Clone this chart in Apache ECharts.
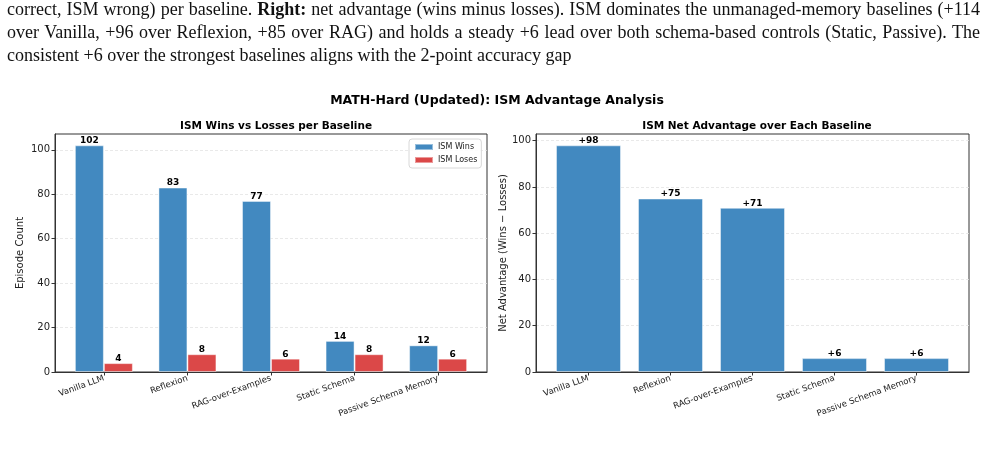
<!DOCTYPE html>
<html>
<head>
<meta charset="utf-8">
<script src="https://cdn.jsdelivr.net/npm/echarts@6/dist/echarts.min.js"></script>
<style>
  html, body { margin: 0; padding: 0; background: #fff; }
  #wrap { position: relative; width: 985px; height: 451px; overflow: hidden; }
  #chart { position: absolute; left: 0; top: 0; width: 985px; height: 451px; }
  #caption {
    position: absolute; left: 7px; top: -2px; width: 973px; z-index: 2;
    font-family: "Liberation Serif", serif; font-size: 18px; line-height: 23px; color: #111;
  }
  #caption .j { text-align: justify; text-align-last: justify; white-space: nowrap; }
</style>
</head>
<body>
<div id="wrap">
  <div id="chart"></div>
  <div id="caption">
    <div class="j">correct, ISM wrong) per baseline. <b>Right:</b> net advantage (wins minus losses). ISM dominates the unmanaged-memory baselines (+114</div>
    <div class="j">over Vanilla, +96 over Reflexion, +85 over RAG) and holds a steady +6 lead over both schema-based controls (Static, Passive). The</div>
    <div>consistent +6 over the strongest baselines aligns with the 2-point accuracy gap</div>
  </div>
</div>
<script>
const baselines = ["Vanilla LLM", "Reflexion", "RAG-over-Examples", "Static Schema", "Passive Schema Memory"];
const ismWins = [102, 83, 77, 14, 12];
const ismLoses = [4, 8, 6, 8, 6];
const netAdvantage = [98, 75, 71, 6, 6];
const yTicksLeft = [0, 20, 40, 60, 80, 100];
const yTicksRight = [0, 20, 40, 60, 80, 100];

const blue = "#4289c0";
const red = "#db4848";
const font = "DejaVu Sans";
const positions = baselines.map((_, i) => i);

const chart = echarts.init(document.getElementById("chart"));

const xAxisBase = (min, max) => ({
  type: "value",
  min, max,
  axisLine: { show: true, onZero: false, lineStyle: { color: "#333", width: 1 } },
  axisTick: { show: true, customValues: positions, length: 3.5, lineStyle: { color: "#333" } },
  axisLabel: {
    customValues: positions,
    formatter: (v) => baselines[Math.round(v)] ?? "",
    rotate: 20, fontSize: 8.5, color: "#222", fontFamily: font, margin: 6
  },
  splitLine: { show: false }
});

const yAxisBase = (max, ticks, name, gap) => ({
  type: "value",
  min: 0, max,
  name, nameLocation: "middle", nameGap: gap,
  nameTextStyle: { fontSize: 10, color: "#222", fontFamily: font },
  axisLine: { show: true, onZero: false, lineStyle: { color: "#333", width: 1 } },
  axisTick: { show: true, customValues: ticks, length: 3.5, lineStyle: { color: "#333" } },
  axisLabel: { customValues: ticks, fontSize: 10, color: "#222", fontFamily: font, margin: 5 },
  interval: 20,
  splitLine: { show: true, lineStyle: { color: "#e3e3e3", type: [3, 2], width: 0.8 } }
});

const barLabel = (prefix) => ({
  show: true, position: "top", distance: 0,
  fontSize: 9, fontWeight: "bold", color: "#000", fontFamily: font,
  formatter: (p) => prefix + p.value[1]
});

chart.setOption({
  animation: false,
  backgroundColor: "#fff",
  textStyle: { fontFamily: font },
  title: [
    { text: "MATH-Hard (Updated): ISM Advantage Analysis", left: 492, top: 89, textAlign: "center",
      textStyle: { fontSize: 12.5, fontWeight: "bold", color: "#000", fontFamily: font } },
    { text: "ISM Wins vs Losses per Baseline", left: 271, top: 116, textAlign: "center",
      textStyle: { fontSize: 10.5, fontWeight: "bold", color: "#000", fontFamily: font } },
    { text: "ISM Net Advantage over Each Baseline", left: 752, top: 116, textAlign: "center",
      textStyle: { fontSize: 10.5, fontWeight: "bold", color: "#000", fontFamily: font } }
  ],
  legend: {
    data: ["ISM Wins", "ISM Loses"],
    orient: "vertical", left: 409, top: 139,
    icon: "rect", itemWidth: 18, itemHeight: 6, itemGap: 5,
    padding: [4, 4, 4, 5],
    borderColor: "#d8d8d8", borderWidth: 1, borderRadius: 3,
    backgroundColor: "rgba(255,255,255,0.85)",
    textStyle: { fontSize: 8, color: "#222", fontFamily: font }
  },
  grid: [
    { left: 55, right: 498, top: 134, bottom: 79, show: true, borderColor: "#333", borderWidth: 1, containLabel: false },
    { left: 536, right: 16, top: 134, bottom: 79, show: true, borderColor: "#333", borderWidth: 1, containLabel: false }
  ],
  xAxis: [
    Object.assign(xAxisBase(-0.585, 4.585), { gridIndex: 0 }),
    Object.assign(xAxisBase(-0.64, 4.64), { gridIndex: 1 })
  ],
  yAxis: [
    Object.assign(yAxisBase(107.1, yTicksLeft, "Episode Count", 30), { gridIndex: 0 }),
    Object.assign(yAxisBase(102.9, yTicksRight, "Net Advantage (Wins \u2212 Losses)", 28), { gridIndex: 1 })
  ],
  series: [
    {
      name: "ISM Wins", type: "bar", xAxisIndex: 0, yAxisIndex: 0,
      data: ismWins.map((v, i) => [positions[i], v]),
      barWidth: 29, barGap: "0%",
      itemStyle: { color: blue, borderColor: "rgba(255,255,255,0.45)", borderWidth: 1 },
      label: barLabel("")
    },
    {
      name: "ISM Loses", type: "bar", xAxisIndex: 0, yAxisIndex: 0,
      data: ismLoses.map((v, i) => [positions[i], v]),
      barWidth: 29, barGap: "0%",
      itemStyle: { color: red, borderColor: "rgba(255,255,255,0.45)", borderWidth: 1 },
      label: barLabel("")
    },
    {
      name: "Net Advantage", type: "bar", xAxisIndex: 1, yAxisIndex: 1,
      data: netAdvantage.map((v, i) => [positions[i], v]),
      barWidth: 65,
      itemStyle: { color: blue, borderColor: "rgba(255,255,255,0.45)", borderWidth: 1 },
      label: barLabel("+")
    }
  ]
});
</script>
</body>
</html>
